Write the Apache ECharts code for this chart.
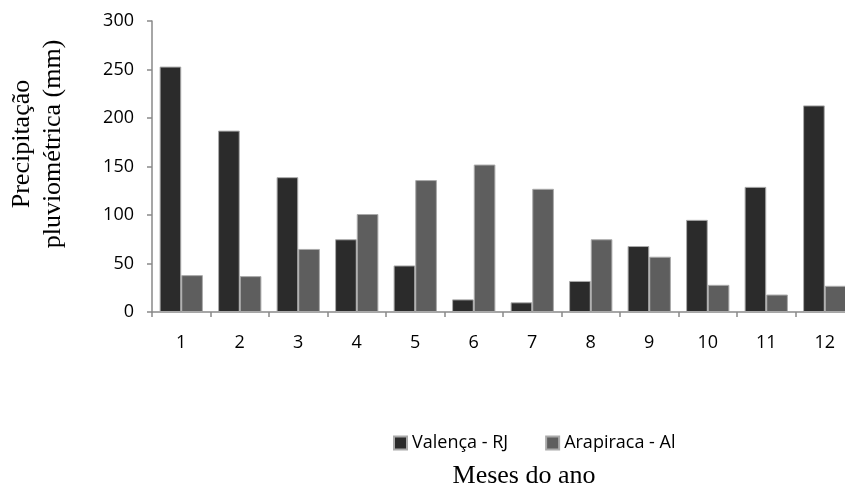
<!DOCTYPE html>
<html>
<head>
<meta charset="utf-8">
<script src="https://cdn.jsdelivr.net/npm/echarts@6/dist/echarts.min.js"></script>
<style>html,body{margin:0;padding:0;background:#fff}#c{width:845px;height:488px}</style>
</head>
<body>
<div id="c"></div>
<script>
const months = ['1','2','3','4','5','6','7','8','9','10','11','12'];
const valenca = [253, 187, 139, 75, 48, 13, 10, 32, 68, 95, 129, 213];
const arapiraca = [38, 37, 65, 101, 136, 152, 127, 75, 57, 28, 18, 27];
const seriesNames = ['Valença - RJ', 'Arapiraca - Al'];
const yTitle = 'Precipitação\npluviométrica (mm)';
const xTitle = 'Meses do ano';

const sans = '"Open Sans", "Liberation Sans", sans-serif';
const serif = '"Liberation Serif", "DejaVu Serif", serif';
const axisColor = '#898989';

const chart = echarts.init(document.getElementById('c'), null, {renderer: 'canvas'});
chart.setOption({
  animation: false,
  backgroundColor: '#fff',
  grid: {left: 152, top: 21, right: -9, bottom: 176, containLabel: false, outerBoundsMode: 'none'},
  legend: {
    data: seriesNames,
    left: 393, top: 434, padding: 0,
    icon: 'rect', itemWidth: 13, itemHeight: 13, itemGap: 37,
    textStyle: {fontFamily: sans, fontSize: 18, color: '#000'}
  },
  xAxis: {
    type: 'category',
    data: months,
    boundaryGap: true,
    axisLine: {lineStyle: {color: axisColor, width: 1.5}},
    axisTick: {show: true, alignWithLabel: false, length: 5, lineStyle: {color: axisColor, width: 1.5}},
    axisLabel: {fontFamily: sans, fontSize: 18, color: '#000', margin: 22}
  },
  yAxis: {
    type: 'value',
    min: 0, max: 300, interval: 50,
    splitLine: {show: false},
    axisLine: {show: true, lineStyle: {color: axisColor, width: 1.5}},
    axisTick: {show: true, length: 5, lineStyle: {color: axisColor, width: 1.5}},
    axisLabel: {fontFamily: sans, fontSize: 18, color: '#000', margin: 18}
  },
  graphic: [
    {
      type: 'text', x: 38, y: 144, rotation: Math.PI / 2,
      style: {text: yTitle, fontFamily: serif, fontSize: 26, lineHeight: 31, fill: '#000', align: 'center', verticalAlign: 'middle'}
    },
    {
      type: 'text', x: 524, y: 476,
      style: {text: xTitle, fontFamily: serif, fontSize: 26, fill: '#000', align: 'center', verticalAlign: 'middle'}
    }
  ],
  series: [
    {
      name: seriesNames[0], type: 'bar', data: valenca,
      barGap: '0%', barCategoryGap: '26%',
      itemStyle: {color: '#2b2b2b', borderColor: '#aaaaaa', borderWidth: 1}
    },
    {
      name: seriesNames[1], type: 'bar', data: arapiraca,
      barGap: '0%', barCategoryGap: '26%',
      itemStyle: {color: '#5e5e5e', borderColor: '#aaaaaa', borderWidth: 1}
    }
  ]
});
</script>
</body>
</html>
